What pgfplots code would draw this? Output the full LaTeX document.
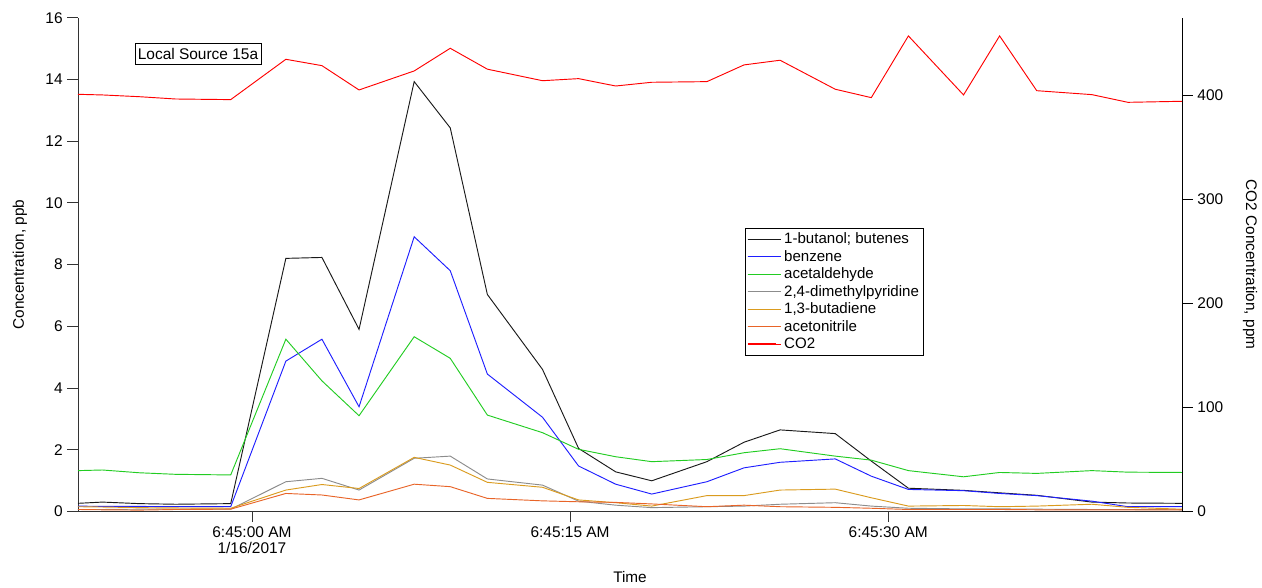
\documentclass[border=0pt]{standalone}
\usepackage{fontspec}
\setmainfont{Liberation Sans}
\usepackage{pgfplots}
\usepackage{pgfplotstable}
\pgfplotsset{compat=1.18}

\pgfplotstableread{
t     but    benz  acet  dmp   buta  acn   co2
-8.2  0.26   0.17  1.32  0.06  0.15  0.06  401.3
-7.05 0.30   0.16  1.34  0.06  0.14  0.05  400.7
-5.3  0.25   0.16  1.25  0.07  0.12  0.04  399.0
-3.6  0.23   0.15  1.20  0.07  0.11  0.06  396.8
-1.0  0.25   0.15  1.18  0.07  0.10  0.07  396.2
1.6   8.20   4.87  5.58  0.96  0.69  0.58  435.0
3.3   8.23   5.58  4.23  1.07  0.87  0.53  428.9
5.05  5.90   3.39  3.10  0.69  0.74  0.37  405.5
7.65  13.93  8.90  5.66  1.72  1.75  0.88  423.8
9.35  12.43  7.80  4.96  1.79  1.50  0.80  445.6
11.1  7.03   4.45  3.12  1.05  0.94  0.42  425.5
13.7  4.60   3.05  2.55  0.85  0.78  0.34  414.4
15.4  2.04   1.47  2.01  0.33  0.37  0.31  416.4
17.15 1.28   0.88  1.77  0.20  0.28  0.29  409.3
18.85 0.99   0.56  1.61  0.12  0.17  0.24  412.9
21.45 1.61   0.96  1.68  0.15  0.51  0.15  413.5
23.2  2.24   1.41  1.90  0.17  0.51  0.20  429.6
24.9  2.64   1.59  2.03  0.23  0.69  0.15  434.1
27.5  2.52   1.70  1.79  0.28  0.72  0.13  406.2
29.2  1.63   1.14  1.66  0.17  0.44  0.10  398.1
30.95 0.75   0.71  1.32  0.10  0.17  0.06  457.5
33.55 0.68   0.67  1.12  0.08  0.19  0.06  400.7
35.25 0.60   0.58  1.26  0.08  0.15  0.06  457.5
37.0  0.52   0.51  1.23  0.07  0.17  0.05  404.8
39.6  0.30   0.33  1.32  0.06  0.23  0.05  401.0
41.3  0.27   0.15  1.27  0.06  0.13  0.05  393.6
43.85 0.26   0.15  1.26  0.05  0.07  0.05  394.6
}\datatable

\definecolor{cbut}{RGB}{25,25,25}
\definecolor{cbenz}{RGB}{30,30,255}
\definecolor{cacet}{RGB}{34,204,34}
\definecolor{cdmp}{RGB}{140,140,140}
\definecolor{cbuta}{RGB}{218,155,30}
\definecolor{cacn}{RGB}{232,100,40}
\definecolor{cco}{RGB}{255,0,0}

\begin{document}
\begin{tikzpicture}[font=\fontsize{11.5pt}{13.5pt}\selectfont]
\useasboundingbox (-58.5pt,-56.8pt) rectangle (888pt,383.5pt);
\begin{axis}[
  scale only axis, width=828pt, height=370.2pt,
  xmin=-8.2, xmax=43.85, ymin=0, ymax=16,
  axis x line*=bottom, axis y line*=left,
  axis line style={-, draw=black!80},
  xtick={0,15,30},
  xticklabels={{6:45:00 AM\\1/16/2017},{6:45:15 AM},{6:45:30 AM}},
  xticklabel style={align=center, font=\fontsize{11.6pt}{12pt}\selectfont},
  yticklabel style={font=\fontsize{11.6pt}{12pt}\selectfont},
  ytick={0,2,...,16},
  tick align=outside, major tick length=8pt,
  tick style={black!80, line width=0.6pt},
  /pgf/number format/assume math mode=true,
  xlabel={Time}, ylabel={Concentration, ppb},
  xlabel style={at={(axis description cs:0.5,0)}, anchor=center, yshift=-49.5pt},
  ylabel style={at={(axis description cs:-0.0525,0.5)}, anchor=center},
  every axis plot/.append style={line width=0.7pt},
  legend style={at={(axis description cs:0.604,0.574)}, anchor=north west,
    draw=black, line width=0.5pt, font=\fontsize{11.3pt}{12pt}\selectfont,
    inner sep=1.5pt, row sep=-0.6pt, cells={anchor=west}},
  legend image code/.code={\draw[#1, line width=0.8pt] (0pt,0pt) -- (21pt,0pt);
    \path (0pt,0pt) -- (25pt,0pt);},
]
\addplot[cbut] table[x=t,y=but] {\datatable};
\addlegendentry{1-butanol; butenes}
\addplot[cbenz] table[x=t,y=benz] {\datatable};
\addlegendentry{benzene}
\addplot[cacet] table[x=t,y=acet] {\datatable};
\addlegendentry{acetaldehyde}
\addplot[cdmp] table[x=t,y=dmp] {\datatable};
\addlegendentry{2,4-dimethylpyridine}
\addplot[cbuta] table[x=t,y=buta] {\datatable};
\addlegendentry{1,3-butadiene}
\addplot[cacn] table[x=t,y=acn] {\datatable};
\addlegendentry{acetonitrile}
\addlegendimage{color=red}
\addlegendentry{CO2}
\node[draw=black, line width=0.5pt, inner xsep=2pt, inner ysep=3.6pt, font=\fontsize{11.6pt}{12pt}\selectfont]
  at (axis description cs:0.1087,0.9275) {Local Source 15a};
\end{axis}
\begin{axis}[
  scale only axis, width=828pt, height=370.2pt,
  xmin=-8.2, xmax=43.85, ymin=0, ymax=475,
  axis x line=none, axis y line*=right,
  axis line style={-, draw=black},
  ytick={0,100,...,400},
  yticklabel style={font=\fontsize{11.6pt}{12pt}\selectfont},
  tick align=outside, major tick length=8pt,
  tick style={black, line width=0.6pt},
  /pgf/number format/assume math mode=true,
  ylabel={CO2 Concentration, ppm},
  ylabel style={at={(axis description cs:1.0616,0.5)}, anchor=center, rotate=180},
  every axis plot/.append style={line width=0.7pt},
]
\addplot[cco] table[x=t,y=co2] {\datatable};
\end{axis}
\end{tikzpicture}
\end{document}
